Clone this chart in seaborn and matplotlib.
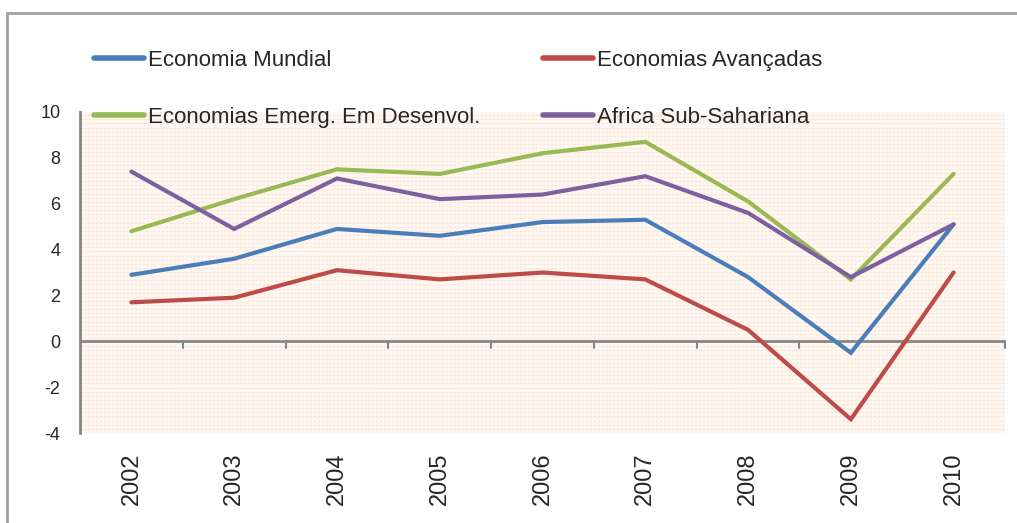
import numpy as np
import pandas as pd
import matplotlib
matplotlib.use("Agg")
import matplotlib.pyplot as plt
import seaborn as sns
from matplotlib.lines import Line2D

years = ["2002", "2003", "2004", "2005", "2006", "2007", "2008", "2009", "2010"]
economia_mundial = [2.9, 3.6, 4.9, 4.6, 5.2, 5.3, 2.8, -0.5, 5.1]
economias_avancadas = [1.7, 1.9, 3.1, 2.7, 3.0, 2.7, 0.5, -3.4, 3.0]
economias_emergentes = [4.8, 6.2, 7.5, 7.3, 8.2, 8.7, 6.1, 2.7, 7.3]
africa_subsahariana = [7.4, 4.9, 7.1, 6.2, 6.4, 7.2, 5.6, 2.8, 5.1]

series_names = ["Economia Mundial", "Economias Avançadas",
                "Economias Emerg. Em Desenvol.", "Africa Sub-Sahariana"]
series_values = [economia_mundial, economias_avancadas,
                 economias_emergentes, africa_subsahariana]
colors = ["#4a7ebb", "#be4b48", "#98b954", "#7d60a0"]

rows = []
for name, vals in zip(series_names, series_values):
    for i, (y, v) in enumerate(zip(years, vals)):
        rows.append({"idx": i, "year": y, "value": v, "serie": name})
df = pd.DataFrame(rows)

sns.set_theme(style="white")
plt.rcParams["font.family"] = ["Liberation Sans", "DejaVu Sans"]

fig = plt.figure(figsize=(10.17, 5.23), dpi=100)
ax = fig.add_axes([80 / 1017, 1 - 433 / 523, 925 / 1017, 321 / 523])
ax.set_facecolor("#fef7f1")
# faint horizontal dashed texture of the plot area
for yy in np.arange(-4, 10.01, 0.18):
    ax.axhline(yy, color="#fde3cf", lw=0.8, ls=(0, (2, 1.5)), zorder=0)

sns.lineplot(data=df, x="idx", y="value", hue="serie", palette=colors,
             hue_order=series_names, linewidth=3, ax=ax, legend=False,
             solid_capstyle="round", solid_joinstyle="miter", zorder=3)

ax.set_xlim(-0.5, len(years) - 0.5)
ax.set_ylim(-4, 10)
ax.set_yticks(range(-4, 11, 2))
ax.set_yticklabels([str(v) for v in range(-4, 11, 2)], fontsize=13)
ax.set_xticks(range(len(years)))
ax.set_xticklabels(years, rotation=90, fontsize=17)
ax.tick_params(axis="x", length=0, pad=14)
ax.tick_params(axis="y", length=6, width=1.5, color="#868686", direction="out", pad=8)
for v in np.arange(0.5, len(years) - 0.5 + 1, 1.0):
    ax.plot([v, v], [0, -0.3], color="#868686", lw=1.5, clip_on=False, zorder=2)
ax.axhline(0, color="#868686", lw=2, zorder=2)
for s in ["top", "right", "bottom"]:
    ax.spines[s].set_visible(False)
ax.spines["left"].set_color("#868686")
ax.spines["left"].set_linewidth(2)
ax.set_xlabel("")
ax.set_ylabel("")

# outer chart border (top and left visible)
fig.add_artist(Line2D([7 / 1017, 7 / 1017], [0, 1 - 13 / 523], color="#a0a0a0", lw=2))
fig.add_artist(Line2D([7 / 1017, 1], [1 - 13 / 523, 1 - 13 / 523], color="#a0a0a0", lw=2))

handles = [Line2D([0], [0], color=c, lw=4, solid_capstyle="round") for c in colors]
order = [0, 2, 1, 3]
leg = fig.legend([handles[i] for i in order], [series_names[i] for i in order],
                 ncol=2, loc="upper left", bbox_to_anchor=(74 / 1017, 1 - 30 / 523),
                 frameon=False, fontsize=16, handlelength=2.25, handletextpad=0.18,
                 labelspacing=1.6, columnspacing=2.8)

fig.savefig("out.png", dpi=100)
